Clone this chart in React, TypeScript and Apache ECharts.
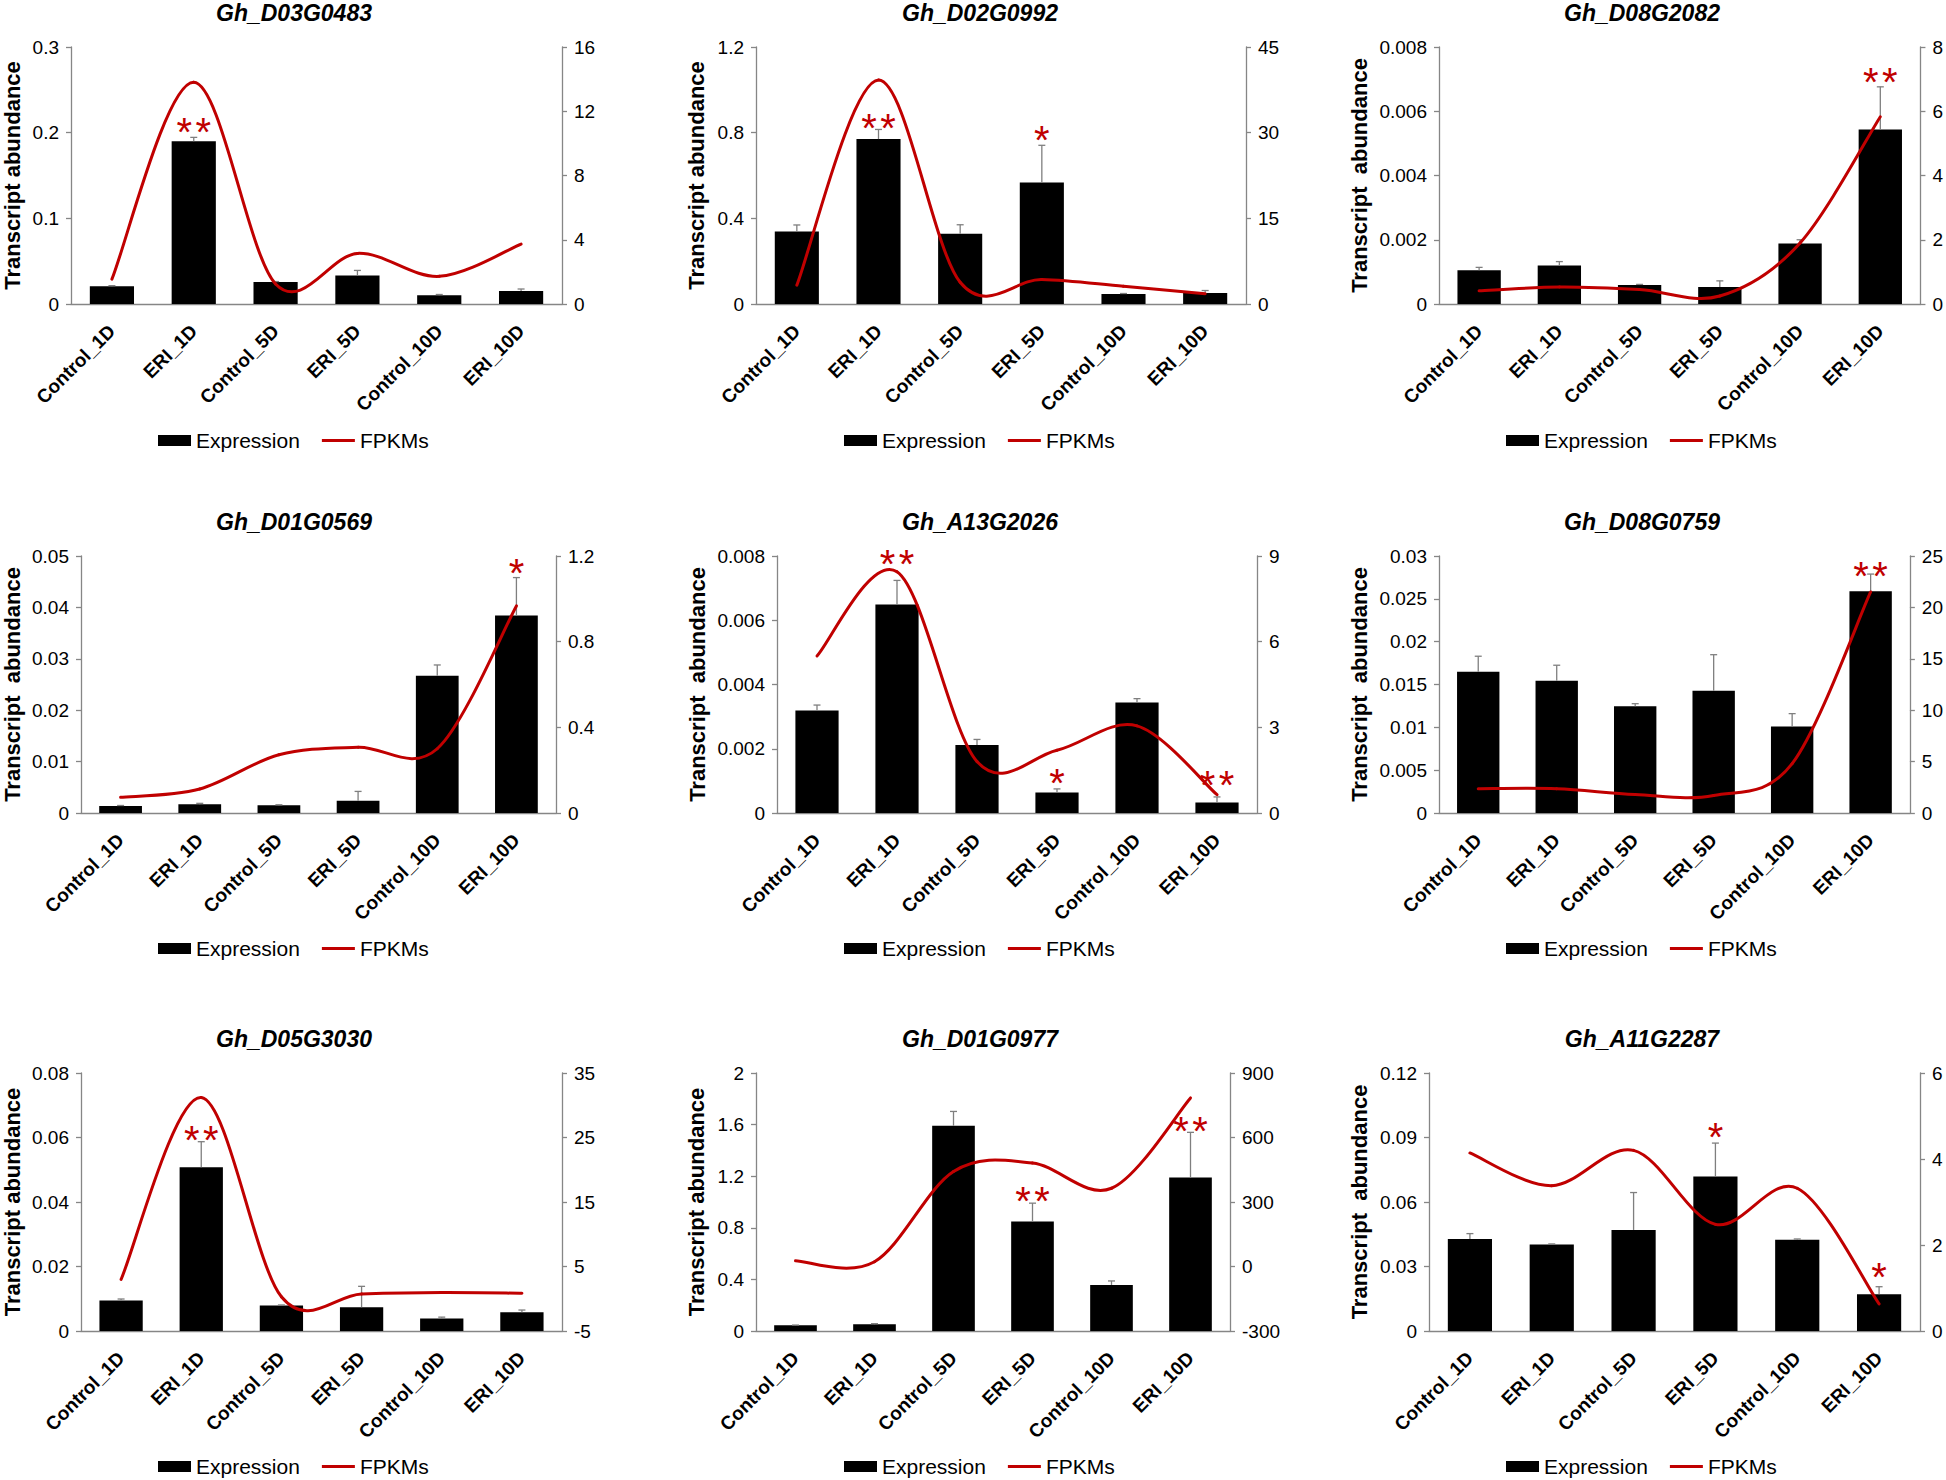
import React, { useEffect, useRef } from "react";
import * as echarts from "echarts";

const FONT = "'Liberation Sans', Arial, sans-serif";
const AXIS = "#868686";
const RED = "#C00000";

const categories = ["Control_1D", "ERI_1D", "Control_5D", "ERI_5D", "Control_10D", "ERI_10D"];
const legendNames = ["Expression", "FPKMs"];

// Gh_D03G0483
const d03g0483Expr = [0.0206, 0.19, 0.0256, 0.0334, 0.0101, 0.0151];
const d03g0483Err = [0.0008, 0.0045, 0.0006, 0.0058, 0.001, 0.0024];
const d03g0483Fpkm = [1.55, 13.8, 1.25, 3.15, 1.72, 3.73];
const d03g0483Stars = [[1, 0.211, 2]];
const d03g0483LeftAxis = [0, 0.3, 0.1];
const d03g0483RightAxis = [0, 16, 4];

// Gh_D02G0992
const d02g0992Expr = [0.338, 0.77, 0.328, 0.567, 0.047, 0.051];
const d02g0992Err = [0.031, 0.045, 0.042, 0.174, 0.002, 0.012];
const d02g0992Fpkm = [3.3, 39.2, 3.8, 4.3, 3.1, 1.8];
const d02g0992Stars = [[1, 0.866, 2], [3, 0.809, 1]];
const d02g0992LeftAxis = [0, 1.2, 0.4];
const d02g0992RightAxis = [0, 45, 15];

// Gh_D08G2082
const d08g2082Expr = [0.00105, 0.0012, 0.00059, 0.00053, 0.00188, 0.00543];
const d08g2082Err = [0.00009, 0.00012, 0.00002, 0.00019, 0.00012, 0.00133];
const d08g2082Fpkm = [0.41, 0.53, 0.45, 0.25, 1.9, 5.83];
const d08g2082Stars = [[5, 0.00719, 2]];
const d08g2082LeftAxis = [0, 0.008, 0.002];
const d08g2082RightAxis = [0, 8, 2];

// Gh_D01G0569
const d01g0569Expr = [0.00136, 0.00168, 0.0015, 0.0024, 0.0267, 0.0384];
const d01g0569Err = [0.0001, 0.0002, 0.0001, 0.0018, 0.0021, 0.0074];
const d01g0569Fpkm = [0.073, 0.112, 0.272, 0.307, 0.3, 0.967];
const d01g0569Stars = [[5, 0.0485, 1]];
const d01g0569LeftAxis = [0, 0.05, 0.01];
const d01g0569RightAxis = [0, 1.2, 0.4];

// Gh_A13G2026
const a13g2026Expr = [0.00319, 0.00649, 0.00212, 0.00064, 0.00344, 0.00033];
const a13g2026Err = [0.00017, 0.00075, 0.00017, 0.00011, 0.00012, 0.00017];
const a13g2026Fpkm = [5.5, 8.45, 1.8, 2.2, 3.05, 0.64];
const a13g2026Stars = [[1, 0.00802, 2], [3, 0.00121, 1], [5, 0.00114, 2]];
const a13g2026LeftAxis = [0, 0.008, 0.002];
const a13g2026RightAxis = [0, 9, 3];

// Gh_D08G0759
const d08g0759Expr = [0.0165, 0.01545, 0.01246, 0.01428, 0.0101, 0.02589];
const d08g0759Err = [0.0018, 0.0018, 0.0003, 0.0042, 0.0015, 0.002];
const d08g0759Fpkm = [2.36, 2.36, 1.8, 1.7, 4.8, 21.5];
const d08g0759Stars = [[5, 0.0287, 2]];
const d08g0759LeftAxis = [0, 0.03, 0.005];
const d08g0759RightAxis = [0, 25, 5];

// Gh_D05G3030
const d05g3030Expr = [0.00942, 0.0508, 0.00787, 0.00735, 0.0039, 0.0058];
const d05g3030Err = [0.0005, 0.0079, 0.0002, 0.0065, 0.0004, 0.0007];
const d05g3030Fpkm = [3.0, 31.2, 0.3, 0.75, 0.95, 0.85];
const d05g3030Stars = [[1, 0.0619, 2]];
const d05g3030LeftAxis = [0, 0.08, 0.02];
const d05g3030RightAxis = [-5, 35, 10];

// Gh_D01G0977
const d01g0977Expr = [0.044, 0.052, 1.591, 0.849, 0.357, 1.19];
const d01g0977Err = [0.002, 0.005, 0.111, 0.142, 0.031, 0.35];
const d01g0977Fpkm = [27, 22, 442, 481, 364, 784];
const d01g0977Stars = [[3, 1.081, 2], [5, 1.624, 2]];
const d01g0977LeftAxis = [0, 2, 0.4];
const d01g0977RightAxis = [-300, 900, 300];

// Gh_A11G2287
const a11g2287Expr = [0.0428, 0.0402, 0.047, 0.0719, 0.0425, 0.0171];
const a11g2287Err = [0.0025, 0.0003, 0.0174, 0.0155, 0.0003, 0.0035];
const a11g2287Fpkm = [4.14, 3.38, 4.2, 2.48, 3.32, 0.63];
const a11g2287Stars = [[3, 0.0944, 1], [5, 0.0292, 1]];
const a11g2287LeftAxis = [0, 0.12, 0.03];
const a11g2287RightAxis = [0, 6, 2];

const panels = [
  { title: "Gh_D03G0483", yName: "Transcript abundance", expr: d03g0483Expr, err: d03g0483Err, fpkm: d03g0483Fpkm, stars: d03g0483Stars, lAxis: d03g0483LeftAxis, rAxis: d03g0483RightAxis },
  { title: "Gh_D02G0992", yName: "Transcript abundance", expr: d02g0992Expr, err: d02g0992Err, fpkm: d02g0992Fpkm, stars: d02g0992Stars, lAxis: d02g0992LeftAxis, rAxis: d02g0992RightAxis },
  { title: "Gh_D08G2082", yName: "Transcript  abundance", expr: d08g2082Expr, err: d08g2082Err, fpkm: d08g2082Fpkm, stars: d08g2082Stars, lAxis: d08g2082LeftAxis, rAxis: d08g2082RightAxis },
  { title: "Gh_D01G0569", yName: "Transcript  abundance", expr: d01g0569Expr, err: d01g0569Err, fpkm: d01g0569Fpkm, stars: d01g0569Stars, lAxis: d01g0569LeftAxis, rAxis: d01g0569RightAxis },
  { title: "Gh_A13G2026", yName: "Transcript  abundance", expr: a13g2026Expr, err: a13g2026Err, fpkm: a13g2026Fpkm, stars: a13g2026Stars, lAxis: a13g2026LeftAxis, rAxis: a13g2026RightAxis },
  { title: "Gh_D08G0759", yName: "Transcript  abundance", expr: d08g0759Expr, err: d08g0759Err, fpkm: d08g0759Fpkm, stars: d08g0759Stars, lAxis: d08g0759LeftAxis, rAxis: d08g0759RightAxis },
  { title: "Gh_D05G3030", yName: "Transcript abundance", expr: d05g3030Expr, err: d05g3030Err, fpkm: d05g3030Fpkm, stars: d05g3030Stars, lAxis: d05g3030LeftAxis, rAxis: d05g3030RightAxis },
  { title: "Gh_D01G0977", yName: "Transcript abundance", expr: d01g0977Expr, err: d01g0977Err, fpkm: d01g0977Fpkm, stars: d01g0977Stars, lAxis: d01g0977LeftAxis, rAxis: d01g0977RightAxis },
  { title: "Gh_A11G2287", yName: "Transcript  abundance", expr: a11g2287Expr, err: a11g2287Err, fpkm: a11g2287Fpkm, stars: a11g2287Stars, lAxis: a11g2287LeftAxis, rAxis: a11g2287RightAxis },
];

// layout (pixels)
const layouts = [
  { x: 71, y: 47, w: 491, h: 257, tx: 294, ty: 1, lx: 158, ly: 430, gap: 48 },
  { x: 756, y: 47, w: 490, h: 257, tx: 980, ty: 1, lx: 844, ly: 430, gap: 49 },
  { x: 1439, y: 47, w: 482, h: 257, tx: 1642, ty: 1, lx: 1506, ly: 430, gap: 69 },
  { x: 81, y: 556, w: 475, h: 257, tx: 294, ty: 510, lx: 158, ly: 938, gap: 58 },
  { x: 777, y: 556, w: 480, h: 257, tx: 980, ty: 510, lx: 844, ly: 938, gap: 69 },
  { x: 1439, y: 556, w: 475, h: 257, tx: 1642, ty: 510, lx: 1506, ly: 938, gap: 69 },
  { x: 81, y: 1073, w: 481, h: 258, tx: 294, ty: 1027, lx: 158, ly: 1456, gap: 58 },
  { x: 756, y: 1073, w: 474, h: 258, tx: 980, ty: 1027, lx: 844, ly: 1456, gap: 49 },
  { x: 1429, y: 1073, w: 491, h: 258, tx: 1642, ty: 1027, lx: 1506, ly: 1456, gap: 59 },
];

const errorRender = (params: any, api: any) => {
  const i = api.value(0);
  const v = api.value(1);
  const e = api.value(2);
  const base = api.coord([i, v]);
  const top = api.coord([i, v + e]);
  const style = { stroke: "#7f7f7f", lineWidth: 1.3 };
  return {
    type: "group",
    children: [
      { type: "line", shape: { x1: base[0], y1: base[1], x2: top[0], y2: top[1] }, style },
      { type: "line", shape: { x1: top[0] - 3.5, y1: top[1], x2: top[0] + 3.5, y2: top[1] }, style },
    ],
  };
};

const starRender = (params: any, api: any) => {
  const i = api.value(0);
  const y = api.value(1);
  const n = api.value(2);
  const p = api.coord([i, y]);
  const children: any[] = [];
  for (let k = 0; k < n; k++) {
    children.push({
      type: "text",
      x: p[0] + (k - (n - 1) / 2) * 19,
      y: p[1] + 9,
      style: {
        text: "*",
        fill: RED,
        fontSize: 40,
        fontFamily: FONT,
        align: "center",
        verticalAlign: "middle",
      },
    });
  }
  return { type: "group", children };
};

// Smoothed (Catmull-Rom style, as in spreadsheet charts) line through the points, via the axis scales
const makeCurveRender = (vals: number[]) => (params: any, api: any) => {
  const i = params.dataIndex;
  const n = vals.length;
  if (i >= n - 1) return { type: "group", children: [] };
  const pt = (j: number) => {
    const jj = Math.max(0, Math.min(n - 1, j));
    return api.coord([jj, vals[jj]]);
  };
  const p0 = pt(i - 1);
  const p1 = pt(i);
  const p2 = pt(i + 1);
  const p3 = pt(i + 2);
  const k = 1 / 6;
  return {
    type: "bezierCurve",
    shape: {
      x1: p1[0],
      y1: p1[1],
      x2: p2[0],
      y2: p2[1],
      cpx1: p1[0] + (p2[0] - p0[0]) * k,
      cpy1: p1[1] + (p2[1] - p0[1]) * k,
      cpx2: p2[0] - (p3[0] - p1[0]) * k,
      cpy2: p2[1] - (p3[1] - p1[1]) * k,
    },
    style: { stroke: RED, lineWidth: 3, fill: "none", lineCap: "round" },
  };
};

function buildOption() {
  const grid: any[] = [];
  const xAxis: any[] = [];
  const yAxis: any[] = [];
  const series: any[] = [];
  const title: any[] = [];
  const legend: any[] = [];

  panels.forEach((p, g) => {
    const L = layouts[g];
    grid.push({ left: L.x, top: L.y, width: L.w, height: L.h, containLabel: false });
    title.push({
      text: p.title,
      left: L.tx,
      top: L.ty,
      textAlign: "center",
      padding: 0,
      textStyle: { fontSize: 23, fontWeight: "bold", fontStyle: "italic", color: "#000", fontFamily: FONT },
    });
    legend.push({
      left: L.lx,
      top: L.ly,
      padding: 0,
      itemWidth: 33,
      itemHeight: 11,
      itemGap: 22,
      selectedMode: false,
      textStyle: { fontSize: 21, color: "#000", fontFamily: FONT },
      data: [
        { name: legendNames[0], icon: "rect" },
        { name: legendNames[1], icon: "path://M0,0H33V3H0Z" },
      ],
    });
    xAxis.push({
      type: "category",
      gridIndex: g,
      data: categories,
      axisLine: { show: true, lineStyle: { color: AXIS, width: 1.3 } },
      axisTick: { show: false },
      axisLabel: { rotate: 45, interval: 0, fontSize: 19, fontWeight: "bold", color: "#000", margin: 24, fontFamily: FONT },
    });
    yAxis.push({
      type: "value",
      gridIndex: g,
      position: "left",
      min: p.lAxis[0],
      max: p.lAxis[1],
      interval: p.lAxis[2],
      name: p.yName,
      nameLocation: "middle",
      nameGap: L.gap,
      nameTextStyle: { fontSize: 22, fontWeight: "bold", color: "#000", fontFamily: FONT },
      axisLine: { show: true, lineStyle: { color: AXIS, width: 1.3 } },
      axisTick: { show: true, length: 5, lineStyle: { color: AXIS, width: 1.3 } },
      axisLabel: { fontSize: 19, color: "#000", margin: 12, fontFamily: FONT },
      splitLine: { show: false },
    });
    yAxis.push({
      type: "value",
      gridIndex: g,
      position: "right",
      min: p.rAxis[0],
      max: p.rAxis[1],
      interval: p.rAxis[2],
      axisLine: { show: true, lineStyle: { color: AXIS, width: 1.3 } },
      axisTick: { show: true, length: 5, lineStyle: { color: AXIS, width: 1.3 } },
      axisLabel: { fontSize: 19, color: "#000", margin: 12, fontFamily: FONT },
      splitLine: { show: false },
    });
    series.push({
      name: legendNames[0],
      type: "bar",
      xAxisIndex: g,
      yAxisIndex: 2 * g,
      data: p.expr,
      barWidth: "54%",
      itemStyle: { color: "#000" },
      z: 2,
    });
    series.push({
      type: "custom",
      xAxisIndex: g,
      yAxisIndex: 2 * g,
      data: p.expr.map((v, i) => [i, v, p.err[i]]),
      encode: { x: 0, y: 1 },
      renderItem: errorRender,
      silent: true,
      clip: false,
      z: 3,
    });
    series.push({
      name: legendNames[1],
      type: "custom",
      xAxisIndex: g,
      yAxisIndex: 2 * g + 1,
      data: p.fpkm.map((v, i) => [i, v]),
      encode: { x: 0, y: 1 },
      renderItem: makeCurveRender(p.fpkm),
      itemStyle: { color: RED },
      silent: true,
      clip: false,
      z: 4,
    });
    series.push({
      type: "custom",
      xAxisIndex: g,
      yAxisIndex: 2 * g,
      data: p.stars.map((s) => [s[0], s[1], s[2]]),
      encode: { x: 0, y: 1 },
      renderItem: starRender,
      silent: true,
      clip: false,
      z: 5,
    });
  });

  return {
    animation: false,
    backgroundColor: "#fff",
    textStyle: { fontFamily: FONT },
    title,
    legend,
    grid,
    xAxis,
    yAxis,
    series,
  };
}

export default function App() {
  const ref = useRef<HTMLDivElement>(null);
  useEffect(() => {
    if (!ref.current) return;
    const chart = echarts.init(ref.current, null, { renderer: "svg" });
    chart.setOption(buildOption() as any);
    return () => chart.dispose();
  }, []);
  return (
    <div
      ref={ref}
      style={{ position: "absolute", left: 0, top: 0, width: 1946, height: 1480, background: "#fff" }}
    />
  );
}
